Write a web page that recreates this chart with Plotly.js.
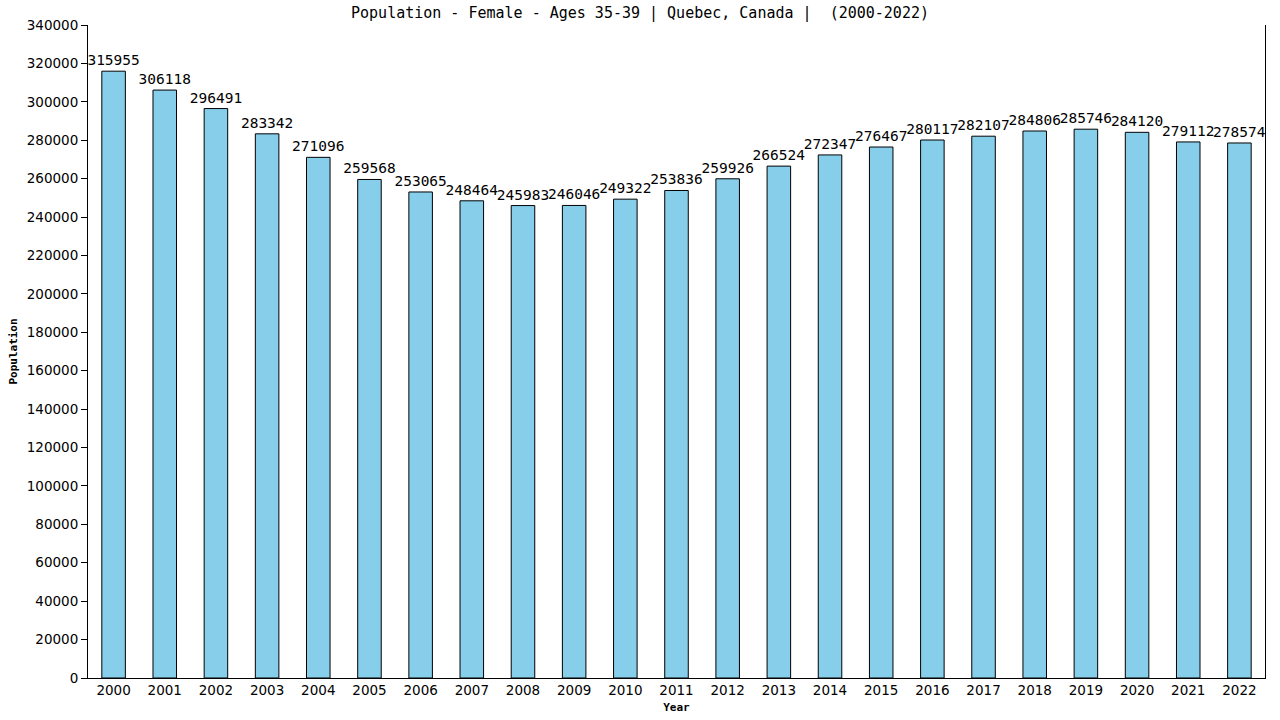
<!DOCTYPE html>
<html>
<head>
<meta charset="utf-8">
<script src="https://cdn.plot.ly/plotly-3.0.1.min.js"></script>
<style>
  body { margin: 0; background: white; }
  #chart { width: 1280px; height: 720px; }
</style>
</head>
<body>
<div id="chart"></div>
<script>
var years = ['2000', '2001', '2002', '2003', '2004', '2005', '2006', '2007', '2008', '2009', '2010', '2011',
             '2012', '2013', '2014', '2015', '2016', '2017', '2018', '2019', '2020', '2021', '2022'];
var population = [315955, 306118, 296491, 283342, 271096, 259568, 253065, 248464, 245983, 246046, 249322, 253836,
                  259926, 266524, 272347, 276467, 280117, 282107, 284806, 285746, 284120, 279112, 278574];
var yTicks = [0, 20000, 40000, 60000, 80000, 100000, 120000, 140000, 160000, 180000, 200000, 220000,
              240000, 260000, 280000, 300000, 320000, 340000];

var mono = 'DejaVu Sans Mono, monospace';

var data = [
  {
    x: years,
    y: population,
    type: 'bar',
    text: population.map(String),
    textposition: 'outside',
    constraintext: 'none',
    cliponaxis: false,
    textfont: {
      family: mono,
      size: 14.5,
      color: 'black'
    },
    hoverinfo: 'x+y',
    marker: {
      color: '#87ceeb',
      line: {
        color: 'black',
        width: 1
      }
    }
  }
];

var layout = {
  width: 1280,
  height: 720,
  paper_bgcolor: 'white',
  plot_bgcolor: 'white',
  bargap: 0.54,
  showlegend: false,
  title: {
    text: 'Population - Female - Ages 35-39 | Quebec, Canada |  (2000-2022)',
    font: { family: mono, size: 15, color: 'black' },
    x: 0.5,
    xanchor: 'center',
    y: 0.982,
    yanchor: 'middle'
  },
  margin: {
    t: 25,
    r: 15,
    b: 42,
    l: 88
  },
  xaxis: {
    type: 'category',
    range: [-0.5, 22.5],
    showline: true,
    linecolor: 'black',
    linewidth: 1,
    ticks: '',
    showgrid: false,
    tickfont: { family: 'DejaVu Sans, sans-serif', size: 13.5, color: 'black' },
    title: {
      text: '<b>Year</b>',
      font: { family: mono, size: 11, color: 'black' },
      standoff: 6
    }
  },
  yaxis: {
    range: [0, 340000],
    tickvals: yTicks,
    ticktext: yTicks.map(String),
    showline: true,
    mirror: true,
    linecolor: 'black',
    linewidth: 1,
    ticks: 'outside',
    ticklen: 6,
    tickcolor: 'black',
    showgrid: false,
    zeroline: false,
    tickfont: { family: 'DejaVu Sans, sans-serif', size: 13.5, color: 'black' },
    title: {
      text: '<b>Population</b>',
      font: { family: mono, size: 11, color: 'black' },
      standoff: 6
    }
  }
};

Plotly.newPlot('chart', data, layout, { displayModeBar: false, staticPlot: true });
</script>
</body>
</html>
